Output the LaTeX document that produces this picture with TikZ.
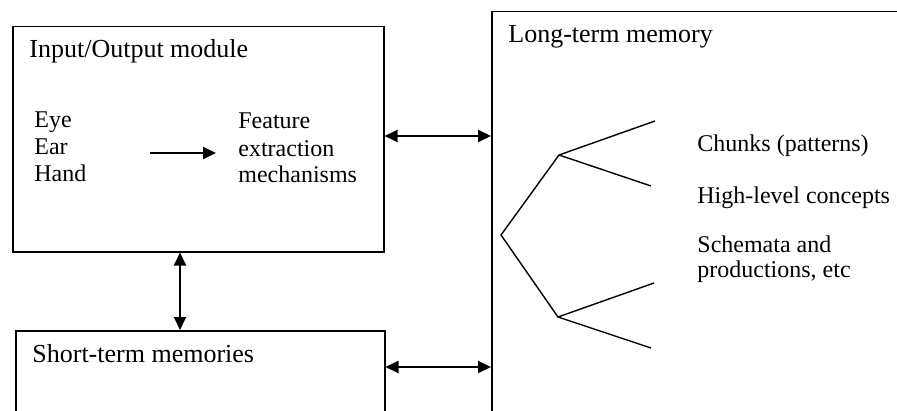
\documentclass[tikz,border=0pt]{standalone}
\usepackage{fontspec}
\setmainfont{Liberation Serif}
\usetikzlibrary{arrows.meta}
\begin{document}
\begin{tikzpicture}[x=0.5pt,y=-0.5pt,
  box/.style={draw, line width=0.75pt, anchor=north west, inner sep=0pt},
  lbl/.style={anchor=base west, inner sep=0pt, font=\fontsize{13}{15}\selectfont},
  item/.style={anchor=base west, inner sep=0pt, font=\fontsize{12}{14}\selectfont},
  tip/.style={},
  arr/.style={line width=0.95pt, {Triangle[length=6.5pt,width=6pt]}-{Triangle[length=6.5pt,width=6pt]}},
  onearr/.style={line width=0.95pt, -{Triangle[length=6.5pt,width=6pt]}},
  branch/.style={line width=0.7pt}]
\useasboundingbox (0,0) rectangle (897,411);
\clip (0,0) rectangle (897,411);
% boxes
\node[box, minimum width=185.5pt, minimum height=112.5pt] (io) at (12,26) {};
\node[box, minimum width=184.5pt, minimum height=45pt] (stm) at (15,330) {};
\node[box, minimum width=210pt, minimum height=210pt] (ltm) at (491,11) {};
% labels
\node[lbl] (iot) at (29,58) {Input/Output module};
\node[item] (eye) at (34,128) {Eye};
\node[item] (ear) at (34,155) {Ear};
\node[item] (hand) at (34,182) {Hand};
\node[item] (fe1) at (238,129) {Feature};
\node[item] (fe2) at (238,156) {extraction};
\node[item] (fe3) at (238,183) {mechanisms};
\node[lbl] (ltmt) at (508,43) {Long-term memory};
\node[lbl] (stmt) at (32,362) {Short-term memories};
\node[item] (ch) at (697,152) {Chunks (patterns)};
\node[item] (hl) at (697,203) {High-level concepts};
\node[item] (sc1) at (697,252) {Schemata and};
\node[item] (sc2) at (697,277) {productions, etc};
% connector anchors
\coordinate (fa) at (150,153);
\coordinate (fb) at (216,153);
\coordinate (h1) at (0,136);
\coordinate (h2) at (0,367);
\coordinate (v) at (180,0);
% arrows
\draw[onearr] (fa) -- (fb);
\draw[arr] (io.east |- h1) -- (ltm.west |- h1);
\draw[arr] (stm.east |- h2) -- (ltm.west |- h2);
\draw[arr] (io.south -| v) -- (stm.north -| v);
% tree
\coordinate (root) at (501,235);
\coordinate (up) at (559,155);
\coordinate (lo) at (558,317);
\coordinate (u1) at (655,121);
\coordinate (u2) at (651,186);
\coordinate (l1) at (654,283);
\coordinate (l2) at (651,348);
\draw[branch] (u1) -- (up) -- (root) -- (lo) -- (l1);
\draw[branch] (up) -- (u2);
\draw[branch] (lo) -- (l2);
\end{tikzpicture}
\end{document}
